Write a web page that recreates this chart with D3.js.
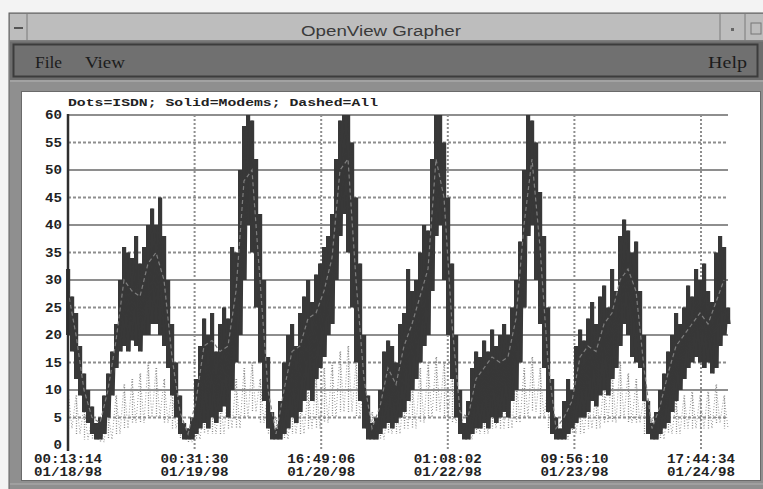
<!DOCTYPE html>
<html><head><meta charset="utf-8">
<script src="https://cdn.jsdelivr.net/npm/d3@7"></script>
<style>
html,body{margin:0;padding:0;background:#f3f3f3;overflow:hidden;}
svg{display:block}
</style></head><body>
<svg id="c" width="763" height="489"></svg>
<script>
// ---------- DATA ----------
const windowTitle = "OpenView Grapher";
const menuLeft = ["File", "View"];
const menuRight = "Help";
const legendText = "Dots=ISDN; Solid=Modems; Dashed=All";
const yTicks = [0, 5, 10, 15, 20, 25, 30, 35, 40, 45, 50, 55, 60];
const tickTimes = ["00:13:14", "00:31:30", "16:49:06", "01:08:02", "09:56:10", "17:44:34"];
const tickDates = ["01/18/98", "01/19/98", "01/20/98", "01/22/98", "01/23/98", "01/24/98"];
const tickSamples = [0, 31.65, 63.3, 94.95, 126.6, 158.25];

// Modems (solid): per-sample high / low of the fast oscillation
const modemHigh = [32,27,24,18,13,10,7,4,5,9,13,17,22,30,36,35,34,38,33,36,40,43,40,45,38,30,22,15,9,4,
  3,5,12,18,23,20,24,17,22,25,23,36,35,50,58,60,59,52,42,30,16,6,3,8,15,20,22,18,24,27,
  30,26,31,33,36,38,42,52,59,60,60,55,45,33,20,9,4,5,10,17,19,18,15,22,24,32,28,30,35,40,
  39,52,60,60,55,45,33,20,10,4,8,14,17,16,19,17,21,18,20,22,20,25,30,37,50,60,59,55,46,38,
  25,12,5,3,8,12,10,18,21,19,23,26,22,27,29,25,32,28,38,41,39,35,37,28,20,8,4,6,10,13,
  17,20,24,22,25,29,27,32,30,33,28,26,35,38,36,25];
const modemLow = [20,17,12,9,6,4,2,1,1,2,5,9,14,17,18,17,19,18,17,20,20,22,22,20,18,14,9,5,2,1,
  1,1,2,3,4,3,5,4,6,7,5,10,15,20,30,40,35,25,15,8,3,1,1,1,2,3,5,4,6,8,
  10,8,12,14,16,20,22,30,38,42,35,25,15,8,3,1,1,1,2,3,4,3,4,5,6,8,10,12,15,18,
  20,28,38,40,30,20,12,5,2,1,1,2,3,3,4,3,5,4,5,6,5,8,10,15,25,38,40,30,22,14,
  6,2,1,1,1,2,3,4,5,5,6,8,7,9,10,9,12,14,18,22,20,16,15,14,8,2,1,1,2,3,
  4,6,8,10,12,14,15,16,15,14,15,13,14,18,20,22];

// All (dashed), every second sample
const allValues = [28,20,10,5,4,10,19,30,28,27,33,35,30,16,6,2,8,18,19,17,18,28,48,50,30,10,2,10,17,18,
  23,24,28,34,50,52,30,12,3,7,14,11,18,22,27,32,52,45,22,6,5,12,14,16,15,16,23,40,52,36,
  15,3,5,8,16,18,17,22,24,30,32,28,14,3,7,13,18,20,22,24,22,26,30];

// ISDN (dots), every second sample: high / low
const isdnHigh = [10,9,7,5,4,6,9,11,12,13,15,14,12,10,6,3,5,7,8,9,10,12,14,15,12,10,5,6,8,9,
  10,12,14,15,17,18,15,12,6,5,7,8,10,12,14,15,16,15,13,8,5,7,8,9,10,11,13,14,16,14,
  11,5,6,7,8,9,10,12,14,15,13,12,9,5,6,7,8,9,10,9,10,11,9];
const isdnLow = [3,2,1,1,0.5,1,2,3,4,4,5,5,4,3,1,0.5,1,2,2,2,3,3,5,6,4,2,1,1,2,2,
  3,3,4,5,6,6,5,3,1,1,2,2,3,3,4,5,6,5,4,2,1,2,2,3,3,3,4,5,6,5,
  3,1,1,2,2,3,3,4,4,5,4,4,2,1,1,2,2,3,3,3,3,4,3];

// ---------- DRAW ----------
const svg = d3.select("#c");
const W = 763, H = 489;

// window chrome
svg.append("rect").attr("x",0).attr("y",0).attr("width",W).attr("height",H).attr("fill","#f3f3f3");
svg.append("rect").attr("x",9).attr("y",13).attr("width",W).attr("height",H).attr("fill","#9a9a9a").attr("stroke","#5a5a5a");
// title bar
svg.append("rect").attr("x",10).attr("y",14).attr("width",W).attr("height",27).attr("fill","#bdbdbd");
svg.append("line").attr("x1",10).attr("x2",W).attr("y1",41).attr("y2",41).attr("stroke","#6a6a6a").attr("stroke-width",1.5);
svg.append("line").attr("x1",27).attr("x2",27).attr("y1",14).attr("y2",41).attr("stroke","#7a7a7a");
svg.append("line").attr("x1",14).attr("x2",23).attr("y1",28).attr("y2",28).attr("stroke","#555").attr("stroke-width",2);
svg.append("line").attr("x1",720).attr("x2",720).attr("y1",14).attr("y2",41).attr("stroke","#7a7a7a");
svg.append("line").attr("x1",745).attr("x2",745).attr("y1",14).attr("y2",41).attr("stroke","#7a7a7a");
svg.append("rect").attr("x",731).attr("y",28).attr("width",3).attr("height",3).attr("fill","#666");
svg.append("rect").attr("x",751).attr("y",23).attr("width",10).attr("height",11).attr("fill","none").attr("stroke","#777");
svg.append("text").attr("x",381).attr("y",36).attr("text-anchor","middle")
  .attr("font-family","Liberation Sans, Arial, sans-serif").attr("font-size",14).attr("fill","#3a3a3a")
  .attr("textLength",160).attr("lengthAdjust","spacingAndGlyphs").text(windowTitle);
// menu bar
svg.append("rect").attr("x",10).attr("y",42).attr("width",W).attr("height",38).attr("fill","#6d6d6d");
svg.append("rect").attr("x",13.5).attr("y",44.5).attr("width",744).attr("height",32).attr("fill","#707070")
  .attr("stroke","#3c3c3c").attr("stroke-width",2);
const menuFont = "Liberation Serif, Times New Roman, serif";
svg.append("text").attr("x",35).attr("y",68).attr("font-family",menuFont).attr("font-size",16).attr("fill","#1c1c1c")
  .attr("textLength",27).attr("lengthAdjust","spacingAndGlyphs").text(menuLeft[0]);
svg.append("text").attr("x",85).attr("y",68).attr("font-family",menuFont).attr("font-size",16).attr("fill","#1c1c1c")
  .attr("textLength",40).attr("lengthAdjust","spacingAndGlyphs").text(menuLeft[1]);
svg.append("text").attr("x",708).attr("y",68).attr("font-family",menuFont).attr("font-size",16).attr("fill","#1c1c1c")
  .attr("textLength",39).attr("lengthAdjust","spacingAndGlyphs").text(menuRight);
// frame + white panel
svg.append("rect").attr("x",10).attr("y",80).attr("width",W).attr("height",H-80).attr("fill","#8f8f8f");
svg.append("line").attr("x1",10).attr("x2",W).attr("y1",81).attr("y2",81).attr("stroke","#b5b5b5");
svg.append("rect").attr("x",21.5).attr("y",91.5).attr("width",739).attr("height",389).attr("fill","#ffffff").attr("stroke","#6a6a6a");
svg.append("line").attr("x1",10).attr("x2",W).attr("y1",484).attr("y2",484).attr("stroke","#b0b0b0");

// plot scales
const x = d3.scaleLinear().domain([0, 165]).range([68, 728]);
const y = d3.scaleLinear().domain([0, 60]).range([445, 115]);
const mono = "Liberation Mono, Courier New, monospace";
const line = d3.line().x(d => x(d[0])).y(d => y(d[1]));

// horizontal grid
const g = svg.append("g");
g.selectAll("line.h").data(yTicks.filter(v => v > 0)).join("line")
  .attr("x1", x(0)).attr("x2", 728)
  .attr("y1", d => y(d)).attr("y2", d => y(d))
  .attr("stroke", "#8e8e8e").attr("stroke-width", 2)
  .attr("stroke-dasharray", d => d % 10 === 0 ? null : "3,2");
// vertical grid
g.selectAll("line.v").data(tickSamples.slice(1)).join("line")
  .attr("x1", d => x(d)).attr("x2", d => x(d))
  .attr("y1", 115).attr("y2", 451)
  .attr("stroke", "#8e8e8e").attr("stroke-width", 2).attr("stroke-dasharray", "2,2");

// ISDN dots: vertical dotted streaks between low and high
svg.append("g").selectAll("line").data(isdnHigh).join("line")
  .attr("x1", (d, j) => x(2*j) + 0.5).attr("x2", (d, j) => x(2*j) + 0.5)
  .attr("y1", d => y(d)).attr("y2", (d, j) => y(isdnLow[j]))
  .attr("stroke", "#8a8a8a").attr("stroke-width", 1.3).attr("stroke-dasharray", "1,1.5");
const isdnPts = [];
isdnHigh.forEach((v, j) => { isdnPts.push([2*j, v]); isdnPts.push([2*j + 1, isdnLow[j]]); });
svg.append("path").attr("d", line(isdnPts)).attr("fill","none")
  .attr("stroke","#9a9a9a").attr("stroke-width",1).attr("stroke-dasharray","1,2");

// Modems solid: each sample's swing as a dark vertical band
svg.append("g").selectAll("rect").data(modemHigh).join("rect")
  .attr("x", (d, i) => x(i) - 2).attr("width", (d, i) => x(i + 1) - x(i) + 0.2)
  .attr("y", d => y(d)).attr("height", (d, i) => Math.max(1, y(modemLow[i]) - y(d)))
  .attr("fill", "#383838");
const modemPts = [];
modemHigh.forEach((v, i) => { modemPts.push([i, v]); modemPts.push([i + 0.5, modemLow[i]]); });
svg.append("path").attr("d", line(modemPts)).attr("fill","none")
  .attr("stroke","#383838").attr("stroke-width",1.2);

// All dashed
const allPts = allValues.map((v, j) => [2*j, v]);
svg.append("path").attr("d", line(allPts)).attr("fill","none")
  .attr("stroke","#7e7e7e").attr("stroke-width",1.2).attr("stroke-dasharray","4,3");

// y axis line
svg.append("line").attr("x1", x(0)).attr("x2", x(0)).attr("y1", 114).attr("y2", 451)
  .attr("stroke","#2e2e2e").attr("stroke-width",2.5);

// y labels
svg.selectAll("text.yl").data(yTicks).join("text")
  .attr("x", 62).attr("y", d => y(d) + 4).attr("text-anchor","end")
  .attr("font-family", mono).attr("font-weight","bold").attr("font-size",12).attr("fill","#222")
  .attr("textLength", d => String(d).length * 8.5).attr("lengthAdjust","spacingAndGlyphs")
  .text(d => d);

// x labels
svg.selectAll("text.xt").data(tickSamples).join("text")
  .attr("x", d => x(d)).attr("y", 463).attr("text-anchor","middle")
  .attr("font-family", mono).attr("font-weight","bold").attr("font-size",12).attr("fill","#222")
  .attr("textLength", 68).attr("lengthAdjust","spacingAndGlyphs")
  .text((d, i) => tickTimes[i]);
svg.selectAll("text.xd").data(tickSamples).join("text")
  .attr("x", d => x(d)).attr("y", 476).attr("text-anchor","middle")
  .attr("font-family", mono).attr("font-weight","bold").attr("font-size",12).attr("fill","#222")
  .attr("textLength", 68).attr("lengthAdjust","spacingAndGlyphs")
  .text((d, i) => tickDates[i]);

// legend
svg.append("text").attr("x", 68).attr("y", 106)
  .attr("font-family", mono).attr("font-weight","bold").attr("font-size",11).attr("fill","#222")
  .attr("textLength", 310).attr("lengthAdjust","spacingAndGlyphs").text(legendText);
</script>
</body></html>
